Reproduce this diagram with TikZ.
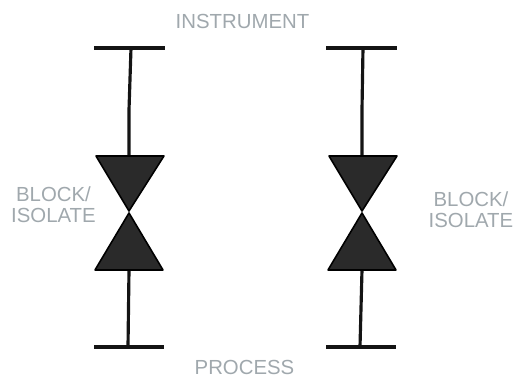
\documentclass[tikz,border=0pt]{standalone}
\usepackage{fontspec}
\setmainfont{Liberation Sans}
\usetikzlibrary{calc}
\definecolor{labelgray}{HTML}{A0A8AD}
\definecolor{valveblack}{HTML}{2A2A2A}
\tikzset{
  label text/.style={text=labelgray, font=\fontsize{11.6}{11.8}\selectfont, inner sep=0pt, align=center},
  pipe/.style={line width=1.8pt, black!92},
  valve/.style={fill=valveblack, draw=black, line width=0.9pt, line join=round}
}
\begin{document}
\begin{tikzpicture}[x=0.02cm,y=-0.02cm]
  \useasboundingbox (0,0) rectangle (515,377);

  \node[label text] (instrument) at (242.5,21.5) {INSTRUMENT};
  \node[label text] (process) at (244.5,367) {PROCESS};
  \node[label text] (blockleft) at (53.5,205) {BLOCK/\\ISOLATE};
  \node[label text] (blockright) at (471,209.5) {BLOCK/\\ISOLATE};

  % Two impulse lines
  \foreach \name/\xtop/\xmid/\xbot in {left/131/129/128,right/363/362/360} {
    \coordinate (top\name) at (\xtop,48);
    \coordinate (bend\name) at (\xmid,110);
    \coordinate (bot\name) at (\xbot,347);
    \coordinate (waistup\name) at (\xmid,211);
    \coordinate (waistdown\name) at (\xmid,213);
    \coordinate (upper\name) at (\xmid,156);
    \coordinate (lower\name) at (\xmid,270);

    \draw[pipe] ($(top\name)+(-37,0)$) -- ($(top\name)+(34,0)$);
    \draw[pipe] ($(bot\name)+(-34,0)$) -- ($(bot\name)+(36,0)$);
    \draw[pipe] (top\name) -- (bend\name) -- (upper\name);
    \draw[pipe] (lower\name) -- (bot\name);

    % Triangles
    \draw[valve] ($(upper\name)+(-33,0)$) -- ($(upper\name)+(35,0)$) -- (waistup\name) -- cycle;
    \draw[valve] ($(lower\name)+(-34,0)$) -- ($(lower\name)+(34,0)$) -- (waistdown\name) -- cycle;
  }
\end{tikzpicture}
\end{document}
